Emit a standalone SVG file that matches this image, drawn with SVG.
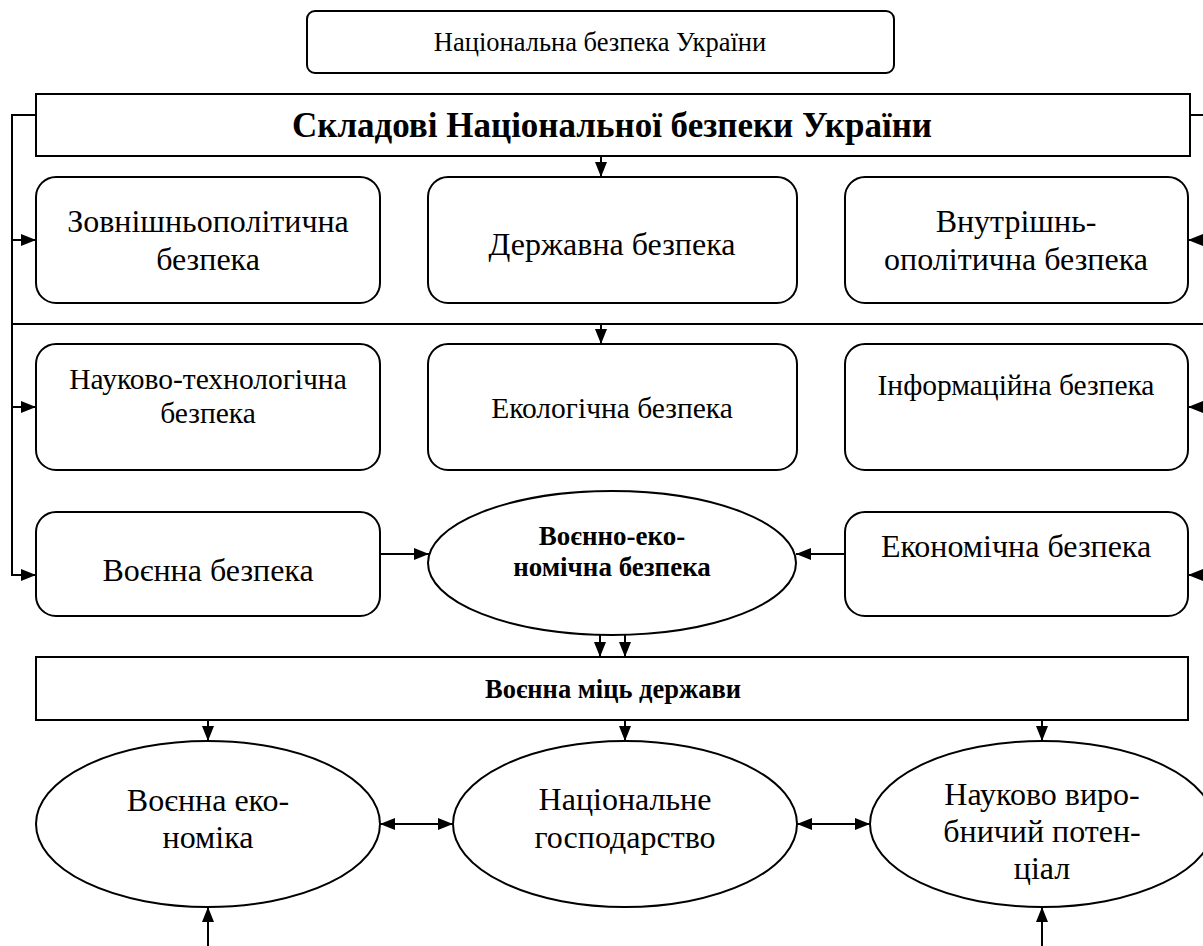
<svg xmlns="http://www.w3.org/2000/svg" width="1203" height="946" viewBox="0 0 1203 946">
<style>
.box{fill:#fff;stroke:#000;stroke-width:2}
.ln{fill:none;stroke:#000;stroke-width:2}
.t{font-family:'Liberation Serif','Times New Roman',serif;fill:#000;text-anchor:middle}
.b{font-weight:bold}
</style>
<defs>
<marker id="ah" viewBox="0 0 15 12" refX="15" refY="6" markerWidth="15" markerHeight="12" markerUnits="userSpaceOnUse" orient="auto-start-reverse">
<path d="M0,0 L15,6 L0,12 Z" fill="#000"/>
</marker>
</defs>
<rect width="1203" height="946" fill="#fff"/>
<g id="connectors">
<path class="ln" d="M36,115 H12 V575 H36" marker-end="url(#ah)"/>
<path class="ln" d="M12,240 H36" marker-end="url(#ah)"/>
<path class="ln" d="M12,407 H36" marker-end="url(#ah)"/>
<path class="ln" d="M1190,115 H1205 V575 H1188" marker-end="url(#ah)"/>
<path class="ln" d="M1205,240 H1188" marker-end="url(#ah)"/>
<path class="ln" d="M1205,407 H1188" marker-end="url(#ah)"/>
<path class="ln" d="M12,324 H1205"/>
<path class="ln" d="M601,156 V177" marker-end="url(#ah)"/>
<path class="ln" d="M601,324 V344" marker-end="url(#ah)"/>
<path class="ln" d="M380,554 H429" marker-end="url(#ah)"/>
<path class="ln" d="M845,554 H796" marker-end="url(#ah)"/>
<path class="ln" d="M600,634 V657" marker-end="url(#ah)"/>
<path class="ln" d="M625,634 V657" marker-end="url(#ah)"/>
<path class="ln" d="M208,720 V741" marker-end="url(#ah)"/>
<path class="ln" d="M625,720 V741" marker-end="url(#ah)"/>
<path class="ln" d="M1042,720 V741" marker-end="url(#ah)"/>
<path class="ln" d="M380,824 H453" marker-start="url(#ah)" marker-end="url(#ah)"/>
<path class="ln" d="M797,824 H870" marker-start="url(#ah)" marker-end="url(#ah)"/>
<path class="ln" d="M208,946 V907" marker-end="url(#ah)"/>
<path class="ln" d="M1042,946 V907" marker-end="url(#ah)"/>
</g>
<g id="n-top">
<rect class="box" x="307" y="11" width="587" height="62" rx="8"/>
<text class="t" x="600" y="51" font-size="26.5">Національна безпека України</text>
</g>
<g id="n-title">
<rect class="box" x="36" y="94" width="1154" height="62"/>
<text class="t b" x="612" y="137" font-size="35">Складові Національної безпеки України</text>
</g>
<g id="n-zovn">
<rect class="box" x="36" y="177" width="344" height="126" rx="20"/>
<text class="t" x="208" y="232" font-size="32">Зовнішньополітична</text>
<text class="t" x="208" y="270" font-size="32">безпека</text>
</g>
<g id="n-derzh">
<rect class="box" x="428" y="177" width="369" height="126" rx="20"/>
<text class="t" x="612" y="255" font-size="32">Державна безпека</text>
</g>
<g id="n-vnutr">
<rect class="box" x="845" y="177" width="343" height="126" rx="20"/>
<text class="t" x="1016" y="232" font-size="32">Внутрішнь-</text>
<text class="t" x="1016" y="270" font-size="32">ополітична безпека</text>
</g>
<g id="n-nauk">
<rect class="box" x="36" y="344" width="344" height="126" rx="20"/>
<text class="t" x="208" y="389" font-size="29.5">Науково-технологічна</text>
<text class="t" x="208" y="423" font-size="29.5">безпека</text>
</g>
<g id="n-ekol">
<rect class="box" x="428" y="344" width="369" height="126" rx="20"/>
<text class="t" x="612" y="418" font-size="29.5">Екологічна безпека</text>
</g>
<g id="n-inf">
<rect class="box" x="845" y="344" width="343" height="126" rx="20"/>
<text class="t" x="1016" y="395" font-size="29.5">Інформаційна безпека</text>
</g>
<g id="n-voen">
<rect class="box" x="36" y="512" width="344" height="104" rx="20"/>
<text class="t" x="208" y="581" font-size="32">Воєнна безпека</text>
</g>
<g id="n-voenek">
<ellipse class="box" cx="612" cy="563" rx="184" ry="72"/>
<text class="t b" x="612" y="545" font-size="27">Воєнно-еко-</text>
<text class="t b" x="612" y="576" font-size="27">номічна безпека</text>
</g>
<g id="n-ekon">
<rect class="box" x="845" y="512" width="343" height="104" rx="20"/>
<text class="t" x="1016" y="557" font-size="32">Економічна безпека</text>
</g>
<g id="n-mits">
<rect class="box" x="36" y="657" width="1152" height="63"/>
<text class="t b" x="613" y="698" font-size="26.5">Воєнна міць держави</text>
</g>
<g id="n-voenekon">
<ellipse class="box" cx="208" cy="824" rx="172" ry="83"/>
<text class="t" x="208" y="811" font-size="32">Воєнна еко-</text>
<text class="t" x="208" y="848" font-size="32">номіка</text>
</g>
<g id="n-nacgosp">
<ellipse class="box" cx="625" cy="824" rx="172" ry="83"/>
<text class="t" x="625" y="810" font-size="32">Національне</text>
<text class="t" x="625" y="848" font-size="32">господарство</text>
</g>
<g id="n-naukvyr">
<ellipse class="box" cx="1042" cy="824" rx="172" ry="83"/>
<text class="t" x="1042" y="805" font-size="32">Науково виро-</text>
<text class="t" x="1042" y="842" font-size="32">бничий потен-</text>
<text class="t" x="1042" y="879" font-size="32">ціал</text>
</g>
</svg>
